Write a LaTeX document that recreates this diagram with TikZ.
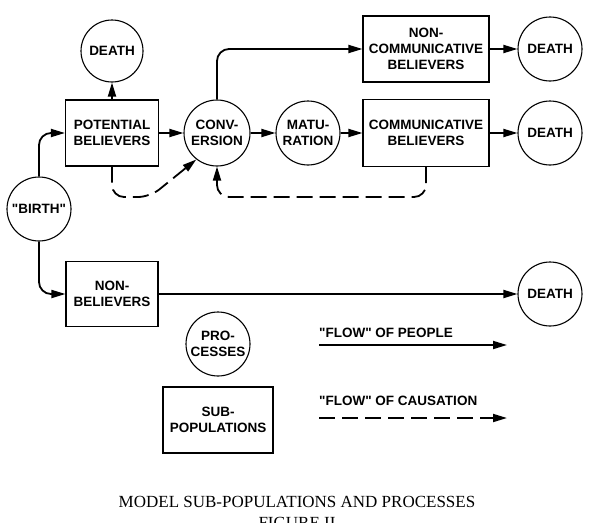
\documentclass[tikz,border=0pt]{standalone}
\usepackage{fontspec}
\setmainfont{Liberation Serif}
\newfontfamily\diagfont{Liberation Sans}
\usetikzlibrary{arrows.meta}
\tikzset{
  lbl/.style={font=\diagfont\bfseries\fontsize{13.5}{16}\selectfont, align=center, inner sep=0pt},
  proc/.style={lbl, draw, circle, line width=1.1pt, minimum size=64pt},
  subpop/.style={lbl, draw, rectangle, line width=1.1pt},
  flow/.style={line width=1.8pt, rounded corners=12pt, -{Triangle[length=14pt,width=8pt]}},
  cause/.style={flow, dash pattern=on 16pt off 7pt}
}

\begin{document}
\begin{tikzpicture}[x=1pt, y=-1pt]
\useasboundingbox (0,0) rectangle (591,522);

% Sub-populations
\node[subpop, minimum width=93pt, minimum height=66pt] (potential) at (112,133) {POTENTIAL\\BELIEVERS};
\node[subpop, minimum width=126pt, minimum height=66pt] (noncomm) at (426,49) {NON-\\COMMUNICATIVE\\BELIEVERS};
\node[subpop, minimum width=126pt, minimum height=67pt] (comm) at (426,133) {COMMUNICATIVE\\BELIEVERS};
\node[subpop, minimum width=92pt, minimum height=65pt] (nonbel) at (112,294) {NON-\\BELIEVERS};

% Processes
\node[proc, minimum size=62pt] (deathpb) at (112,51) {DEATH};
\node[proc, minimum size=66pt] (conv) at (217,133) {CONV-\\ERSION};
\node[proc] (matur) at (308,133) {MATU-\\RATION};
\node[proc] (deathnc) at (550,49) {DEATH};
\node[proc] (deathc) at (550,133) {DEATH};
\node[proc] (birth) at (39,209) {"BIRTH"};
\node[proc] (deathnb) at (550,294) {DEATH};

% Flow of people
\draw[flow] (birth.north) |- (potential.west);
\draw[flow] (birth.south) |- (nonbel.west);
\draw[flow] (potential) -- (deathpb);
\draw[flow] (potential) -- (conv);
\draw[flow] (conv) -- (matur);
\draw[flow] (matur) -- (comm);
\draw[flow] (conv.north) |- (noncomm.west);
\draw[flow] (noncomm) -- (deathnc);
\draw[flow] (comm) -- (deathc);
\draw[flow] (nonbel) -- (deathnb);

% Flow of causation
\coordinate (bend) at (150,197);
\coordinate (loop) at (300,197);
\draw[cause] (potential.south) |- (bend) -- (conv.-128);
\draw[cause] (comm.south) |- (loop) -| (conv.south);

% Legend
\node[proc] (processes) at (218,344) {PRO-\\CESSES};
\node[subpop, minimum width=110pt, minimum height=66pt] (subpops) at (218,420) {SUB-\\POPULATIONS};
\node[lbl, anchor=west] (peopletext) at (319,333) {"FLOW" OF PEOPLE};
\node[lbl, anchor=west] (causetext) at (319,401) {"FLOW" OF CAUSATION};
\coordinate (peoplefrom) at (319,345);
\coordinate (peopleto) at (507,345);
\coordinate (causefrom) at (319,418);
\coordinate (causeto) at (507,418);
\draw[flow] (peoplefrom) -- (peopleto);
\draw[cause] (causefrom) -- (causeto);

% Caption
\node[font=\fontsize{17}{20}\selectfont, anchor=base] (title) at (297,507) {MODEL SUB-POPULATIONS AND PROCESSES};
\node[font=\fontsize{17}{20}\selectfont, anchor=base] (fignum) at (297,528) {FIGURE II};
\end{tikzpicture}
\end{document}
